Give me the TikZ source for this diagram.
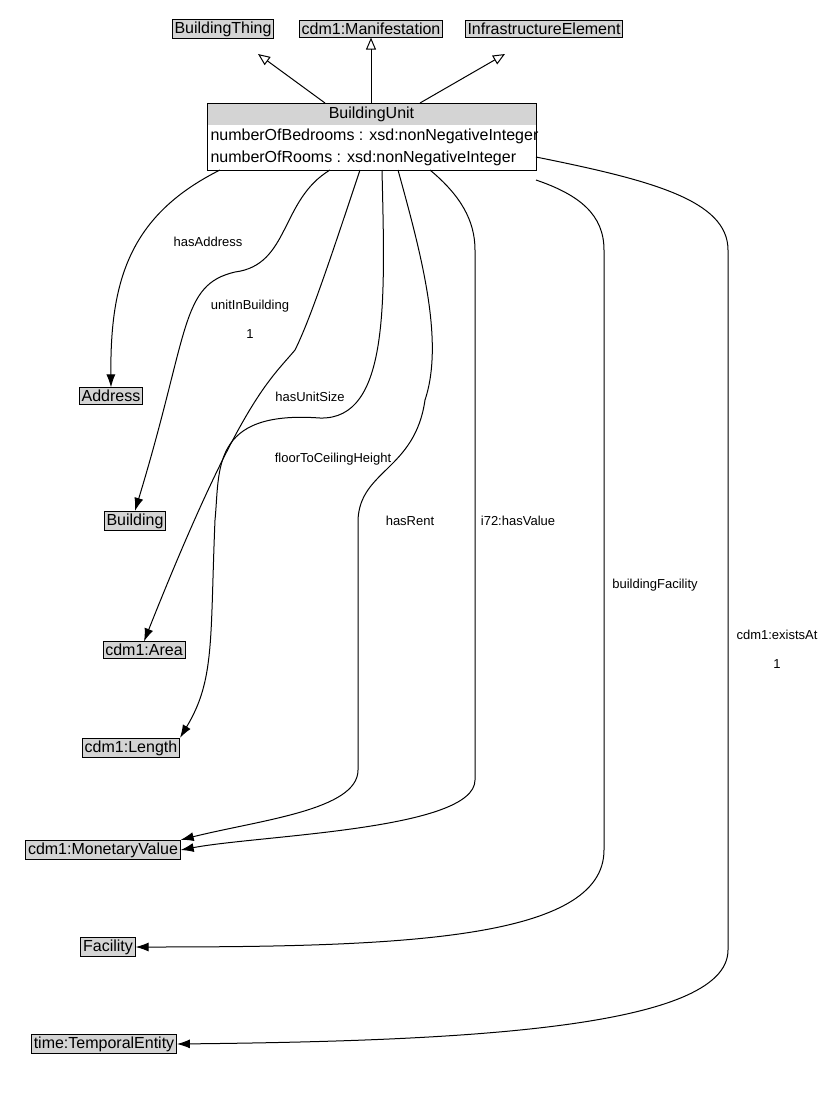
\documentclass[tikz,border=0pt]{standalone}
\usepackage{fontspec}
\setmainfont{Liberation Sans}
\usetikzlibrary{arrows.meta}
\begin{document}
\begin{tikzpicture}[x=1pt,y=-1pt,line width=1pt,
  cls/.style={draw,line width=0.8pt,fill=black!17,inner sep=2.3pt,font=\fontsize{16}{18}\selectfont},
  lbl/.style={fill=white,inner sep=1pt,font=\fontsize{13}{15}\selectfont},
  rel/.style={-{Latex[length=13pt,width=9pt]}},
  isa/.style={-{Triangle[open,length=12pt,width=10pt]}}]
\useasboundingbox (0,0) rectangle (833,1096);
\node[cls] (bt) at (223,29) {BuildingThing};
\node[cls] (man) at (371,29) {cdm1:Manifestation};
\node[cls] (inf) at (544,29) {InfrastructureElement};
\fill[black!17] (207.5,103.5) rectangle (535.5,125);
\draw[line width=0.8pt] (207,103) rectangle (536,170);
\node[font=\fontsize{16}{18}\selectfont] at (371.5,114) {BuildingUnit};
\node[font=\fontsize{16}{18}\selectfont,anchor=west,inner sep=0] at (210,136) {numberOfBedrooms : xsd:nonNegativeInteger};
\node[font=\fontsize{16}{18}\selectfont,anchor=west,inner sep=0] at (210,158) {numberOfRooms : xsd:nonNegativeInteger};
\node[cls] (addr) at (111,396) {Address};
\node[cls] (bld) at (135,521) {Building};
\node[cls] (area) at (144,650) {cdm1:Area};
\node[cls] (len) at (131,748) {cdm1:Length};
\node[cls] (mon) at (103,850) {cdm1:MonetaryValue};
\node[cls] (fac) at (108,947) {Facility};
\node[cls] (tim) at (104,1044) {time:TemporalEntity};
\coordinate (btin) at (258,54);
\coordinate (infin) at (505,54);
\draw[isa] (325,103) -- (btin);
\draw[isa] (371,103) -- (man.south);
\draw[isa] (420,103) -- (infin);
\draw[rel] (220,170) .. controls (130,215) and (110,280) .. (addr.north);
\node[lbl] at (208,242) {hasAddress};
\draw[rel] (330,170) .. controls (280,200) and (290,265) .. (235,272) .. controls (180,285) and (190,330) .. (bld.north);
\node[lbl] at (250,306) {unitInBuilding};
\node[lbl] at (250,334) {1};
\draw[rel] (360,170) .. controls (330,260) and (310,320) .. (295,350) .. controls (270,380) and (240,400) .. (area.north);
\node[lbl] at (310,397) {hasUnitSize};
\draw[rel] (382,170) .. controls (385,300) and (390,420) .. (320,418) .. controls (210,410) and (220,470) .. (215,520) .. controls (210,640) and (215,680) .. (len.north east);
\node[lbl] at (333,459) {floorToCeilingHeight};
\draw[rel] (398,170) .. controls (420,250) and (445,340) .. (425,400) .. controls (415,470) and (360,470) .. (358,520) -- (358,770) .. controls (358,810) and (260,820) .. (mon.north east);
\node[lbl] at (410,521) {hasRent};
\draw[rel] (430,170) .. controls (460,195) and (475,220) .. (475,250) -- (475,780) .. controls (475,830) and (260,835) .. (mon.east);
\node[lbl] at (518,521) {i72:hasValue};
\draw[rel] (536,180) .. controls (580,195) and (604,215) .. (604,250) -- (604,850) .. controls (604,940) and (400,947) .. (fac.east);
\node[lbl] at (655,585) {buildingFacility};
\draw[rel] (536,157) .. controls (650,180) and (728,200) .. (728,250) -- (728,950) .. controls (728,1030) and (450,1041) .. (tim.east);
\node[lbl] at (777,635) {cdm1:existsAt};
\node[lbl] at (777,664) {1};
\end{tikzpicture}
\end{document}
